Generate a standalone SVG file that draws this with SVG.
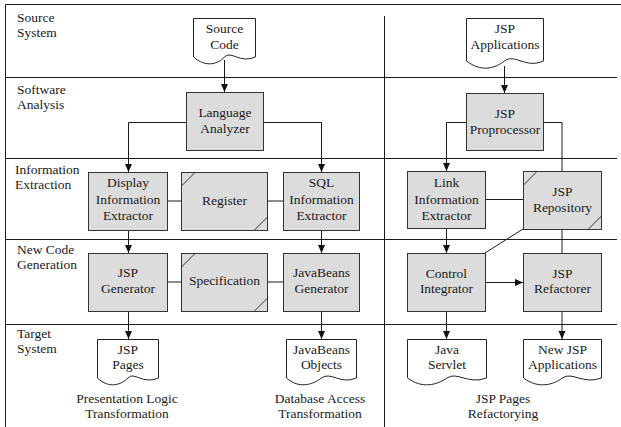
<svg xmlns="http://www.w3.org/2000/svg" width="621" height="427" viewBox="0 0 621 427" font-family="Liberation Serif, Times New Roman, serif">
  <style>
    text { font-family: 'Liberation Serif', 'Times New Roman', Times, serif; font-size: 13.5px; fill: #1a1a1a; }
    .c { text-anchor: middle; }
    .lane { text-anchor: start; }
    .frame { stroke: #1a1a1a; stroke-width: 1; fill: none; }
    .proc { fill: #dcdcdc; stroke: #333333; stroke-width: 1; }
    .store { fill: #dcdcdc; stroke: #333333; stroke-width: 1; }
    .mark { stroke: #333333; stroke-width: 1; fill: none; }
    .doc { fill: #ffffff; stroke: #222222; stroke-width: 1; }
    .link { stroke: #1a1a1a; stroke-width: 1; fill: none; }
    .arr { marker-end: url(#head); }
  </style>
  <defs>
    <marker id="head" markerUnits="userSpaceOnUse" markerWidth="8" markerHeight="8" refX="8" refY="4" orient="auto">
      <path d="M0,0.5 L8,4 L0,7.5 Z" fill="#111111"/>
    </marker>
  </defs>

  <rect width="621" height="427" fill="#ffffff"/>

  <!-- swimlane frame -->
  <g id="frame">
    <path class="frame" d="M5.5,4.5 H621" stroke-width="1.4"/>
    <path class="frame" d="M5.5,4.5 V427"/>
    <path class="frame" d="M5.5,77.5 H617"/>
    <path class="frame" d="M5.5,158.5 H617"/>
    <path class="frame" d="M5.5,239.5 H617"/>
    <path class="frame" d="M5.5,324.5 H617"/>
    <path class="frame" d="M384.5,16 V427"/>
  </g>

  <!-- lane titles -->
  <g id="lane-labels">
    <text class="lane" x="17" y="22">Source</text>
    <text class="lane" x="17" y="37">System</text>
    <text class="lane" x="17" y="94">Software</text>
    <text class="lane" x="17" y="109">Analysis</text>
    <text class="lane" x="15" y="174">Information</text>
    <text class="lane" x="15" y="189">Extraction</text>
    <text class="lane" x="17" y="254">New Code</text>
    <text class="lane" x="17" y="269">Generation</text>
    <text class="lane" x="17" y="338">Target</text>
    <text class="lane" x="17" y="353">System</text>
  </g>

  <!-- connectors -->
  <g id="connectors">
    <path class="link arr" d="M224.5,60 V92"/>
    <path class="link arr" d="M186,122.5 H128.5 V172"/>
    <path class="link arr" d="M263,122.5 H321.5 V172"/>
    <path class="link arr" d="M504.5,66 V93"/>
    <path class="link arr" d="M466,122.5 H446.5 V171"/>
    <path class="link" d="M543,122.5 H562 V171"/>
    <path class="link" d="M167,201 H181"/>
    <path class="link" d="M267,201 H283"/>
    <path class="link" d="M485,199.5 H523"/>
    <path class="link arr" d="M128.5,230 V253"/>
    <path class="link arr" d="M321.5,230 V253"/>
    <path class="link arr" d="M446.5,228 V253"/>
    <path class="link" d="M562,229 V253"/>
    <path class="link" d="M485,253 L523,229"/>
    <path class="link" d="M167,282 H181"/>
    <path class="link" d="M267,282 H283"/>
    <path class="link arr" d="M485,282.5 H523"/>
    <path class="link arr" d="M128.5,311 V339"/>
    <path class="link arr" d="M321.5,311 V339"/>
    <path class="link arr" d="M446.5,311 V339"/>
    <path class="link arr" d="M562,311 V339"/>
  </g>

  <!-- source documents -->
  <g id="source-code">
    <path class="doc" d="M193.5,18.5 H255.5 V57 C240,64 231,50 224.5,57 C218,64 206,68 193.5,57 Z"/>
    <text class="c" x="224.5" y="33">Source</text>
    <text class="c" x="224.5" y="49">Code</text>
  </g>
  <g id="jsp-applications">
    <path class="doc" d="M466.5,18.5 H543.5 V61 C525,69 515,53 504.5,61 C494,69 481,72 466.5,61 Z"/>
    <text class="c" x="505" y="33">JSP</text>
    <text class="c" x="505" y="49">Applications</text>
  </g>

  <!-- analysis -->
  <g id="language-analyzer">
    <rect class="proc" x="186.5" y="92.5" width="77" height="58"/>
    <text class="c" x="225" y="117">Language</text>
    <text class="c" x="225" y="133">Analyzer</text>
  </g>
  <g id="jsp-proprocessor">
    <rect class="proc" x="466.5" y="93.5" width="77" height="57"/>
    <text class="c" x="505" y="118">JSP</text>
    <text class="c" x="505" y="134">Proprocessor</text>
  </g>

  <!-- extraction -->
  <g id="display-extractor">
    <rect class="proc" x="88.5" y="172.5" width="79" height="58"/>
    <text class="c" x="128" y="187">Display</text>
    <text class="c" x="128" y="203.5">Information</text>
    <text class="c" x="128" y="220">Extractor</text>
  </g>
  <g id="register">
    <rect class="store" x="181.5" y="172.5" width="86" height="58"/>
    <path class="mark" d="M181.5,186 L195,172.5 M254,230.5 L267.5,217"/>
    <text class="c" x="224.5" y="205">Register</text>
  </g>
  <g id="sql-extractor">
    <rect class="proc" x="283.5" y="172.5" width="76" height="58"/>
    <text class="c" x="321.5" y="187">SQL</text>
    <text class="c" x="321.5" y="203.5">Information</text>
    <text class="c" x="321.5" y="220">Extractor</text>
  </g>
  <g id="link-extractor">
    <rect class="proc" x="407.5" y="171.5" width="78" height="57"/>
    <text class="c" x="446.5" y="186.5">Link</text>
    <text class="c" x="446.5" y="203.5">Information</text>
    <text class="c" x="446.5" y="220">Extractor</text>
  </g>
  <g id="jsp-repository">
    <rect class="store" x="523.5" y="171.5" width="78" height="58"/>
    <path class="mark" d="M523.5,185 L537,171.5 M588,229.5 L601.5,216"/>
    <text class="c" x="562.5" y="196">JSP</text>
    <text class="c" x="562.5" y="212">Repository</text>
  </g>

  <!-- generation -->
  <g id="jsp-generator">
    <rect class="proc" x="88.5" y="253.5" width="79" height="58"/>
    <text class="c" x="128" y="277">JSP</text>
    <text class="c" x="128" y="293">Generator</text>
  </g>
  <g id="specification">
    <rect class="store" x="181.5" y="253.5" width="86" height="58"/>
    <path class="mark" d="M181.5,267 L195,253.5 M254,311.5 L267.5,298"/>
    <text class="c" x="224.5" y="285">Specification</text>
  </g>
  <g id="javabeans-generator">
    <rect class="proc" x="283.5" y="253.5" width="76" height="58"/>
    <text class="c" x="321.5" y="277">JavaBeans</text>
    <text class="c" x="321.5" y="293">Generator</text>
  </g>
  <g id="control-integrator">
    <rect class="proc" x="407.5" y="253.5" width="78" height="58"/>
    <text class="c" x="446.5" y="278">Control</text>
    <text class="c" x="446.5" y="293">Integrator</text>
  </g>
  <g id="jsp-refactorer">
    <rect class="proc" x="523.5" y="253.5" width="78" height="58"/>
    <text class="c" x="562.5" y="278">JSP</text>
    <text class="c" x="562.5" y="293">Refactorer</text>
  </g>

  <!-- target documents -->
  <g id="jsp-pages">
    <path class="doc" d="M97.5,339.5 H158.5 V378 C143,385 134,371 128,378 C121,385 109,389 97.5,378 Z"/>
    <text class="c" x="128" y="354">JSP</text>
    <text class="c" x="128" y="369">Pages</text>
  </g>
  <g id="javabeans-objects">
    <path class="doc" d="M286.5,339.5 H356.5 V378 C340,385 331,371 321.5,378 C312,385 299,389 286.5,378 Z"/>
    <text class="c" x="321.5" y="354">JavaBeans</text>
    <text class="c" x="321.5" y="369">Objects</text>
  </g>
  <g id="java-servlet">
    <path class="doc" d="M407.5,339.5 H486.5 V378 C468,385 457,371 447,378 C437,385 422,389 407.5,378 Z"/>
    <text class="c" x="447" y="354">Java</text>
    <text class="c" x="447" y="369">Servlet</text>
  </g>
  <g id="new-jsp-applications">
    <path class="doc" d="M523.5,339.5 H601.5 V378 C583,385 572,371 562.5,378 C553,385 538,389 523.5,378 Z"/>
    <text class="c" x="562.5" y="354">New JSP</text>
    <text class="c" x="562.5" y="369">Applications</text>
  </g>

  <!-- transformation captions -->
  <g id="captions">
    <text class="c" x="127" y="403">Presentation Logic</text>
    <text class="c" x="127" y="418">Transformation</text>
    <text class="c" x="320" y="403">Database Access</text>
    <text class="c" x="320" y="418">Transformation</text>
    <text class="c" x="503" y="403">JSP Pages</text>
    <text class="c" x="503" y="418">Refactorying</text>
  </g>
</svg>
